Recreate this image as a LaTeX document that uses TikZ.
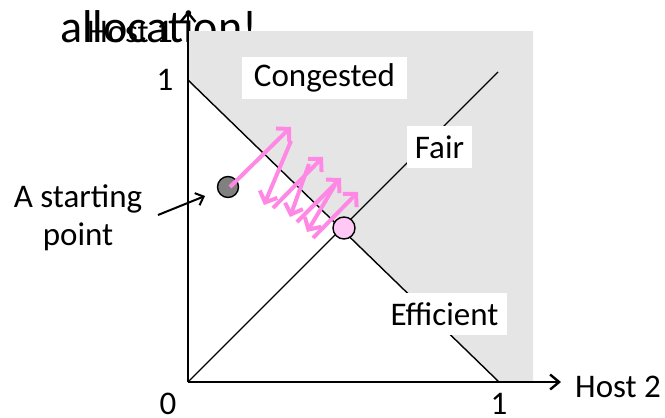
\documentclass[tikz,border=0pt]{standalone}
\usepackage{fontspec}
\setmainfont{Carlito}
\usetikzlibrary{arrows.meta}
\definecolor{pinkarrow}{RGB}{255,136,228}
\definecolor{pinkdot}{RGB}{255,200,245}
\definecolor{congray}{RGB}{229,229,229}
\definecolor{dotgray}{RGB}{128,128,128}
\begin{document}
\begin{tikzpicture}[x=1pt,y=-1pt,
  lab/.style={font=\fontsize{33}{38}\selectfont, inner sep=0pt},
  whitebox/.style={lab, fill=white, minimum height=42pt},
  axis/.style={line width=2.6pt, -{Straight Barb[length=9pt,width=15pt,line width=2.4pt]}},
  thinline/.style={line width=1.4pt},
  pinkarr/.style={pinkarrow, line width=4pt, -{Straight Barb[length=9pt,width=19pt,line width=4pt]}},
  startarr/.style={line width=2pt, -{Straight Barb[length=7pt,width=13pt,line width=2pt]}}]
\useasboundingbox (0,0) rectangle (665,418);
% title (partly hidden)
\node[anchor=base west, font=\fontsize{46}{50}\selectfont, inner sep=0pt] (title) at (60,42) {allocation!};
% congested region
\fill[congray] (188,31) -- (533,31) -- (533,382) -- (499,382) -- (188,80) -- cycle;
% coordinates
\coordinate (O) at (188,382);
\coordinate (ytip) at (188,11);
\coordinate (xtip) at (561,382);
\coordinate (e1) at (188,80);
\coordinate (e2) at (499,382);
\coordinate (f2) at (498,72);
% lines
\draw[thinline] (e1) -- (e2);
\draw[thinline] (O) -- (f2);
% labels
\node[whitebox, minimum width=165pt] (cong) at (324.5,77.5) {Congested};
\node[whitebox, minimum width=65pt] (fair) at (439.5,147) {Fair};
\node[whitebox, minimum width=125pt] (eff) at (444.5,314) {Efficient};
\node[lab, anchor=base west] (h1) at (87,42) {Host 1};
\node[lab, anchor=base west] (h2) at (575,397) {Host 2};
\node[lab] (one y) at (165,80) {1};
\node[lab] (zero) at (168,404) {0};
\node[lab] (one x) at (499,404) {1};
\node[lab, anchor=base] (start) at (78,207) {A starting};
\node[lab, anchor=base] (start2) at (78,245) {point};
% axes
\draw[axis] (O) -- (ytip);
\draw[axis] (O) -- (xtip);
% starting point
\node[circle, draw, line width=1.4pt, fill=dotgray, minimum size=21pt, inner sep=0pt] (sp) at (228,187) {};
\coordinate (s0) at (158,215);
\draw[startarr] (s0) -- (205,196);
% pink zigzag
\coordinate (p0) at (230,187);
\coordinate (p1) at (291,127);
\coordinate (p2a) at (291,141);
\coordinate (p2) at (264,205);
\coordinate (p3a) at (273,208);
\coordinate (p3) at (323,157);
\coordinate (p4a) at (309,164);
\coordinate (p4) at (290,217);
\coordinate (p5a) at (297,222);
\coordinate (p5) at (341,178);
\coordinate (p6a) at (335,185);
\coordinate (p6) at (307,232);
\coordinate (p7a) at (313,238);
\coordinate (p7) at (358,192);
\draw[pinkarr] (p0) -- (p1);
\draw[pinkarr] (p2a) -- (p2);
\draw[pinkarr] (p3a) -- (p3);
\draw[pinkarr] (p4a) -- (p4);
\draw[pinkarr] (p5a) -- (p5);
\draw[pinkarr] (p6a) -- (p6);
\draw[pinkarr] (p7a) -- (p7);
% fair & efficient point
\node[circle, draw, line width=1.4pt, fill=pinkdot, minimum size=22pt, inner sep=0pt] (fe) at (344,228) {};
\end{tikzpicture}
\end{document}
